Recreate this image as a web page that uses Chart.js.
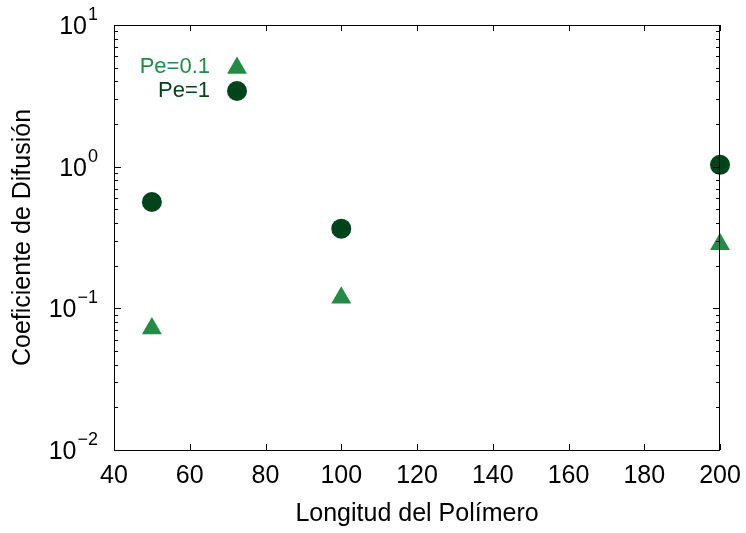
<!DOCTYPE html>
<html>
<head>
<meta charset="utf-8">
<script src="https://cdn.jsdelivr.net/npm/chart.js@4"></script>
<style>
  html, body { margin: 0; padding: 0; background: #fff; }
  #wrap { width: 746px; height: 533px; }
</style>
</head>
<body>
<div id="wrap"><canvas id="chart1" width="746" height="533"></canvas></div>
<script>
  // datos
  const longitudes = [50, 100, 200];
  const pe01 = [0.072, 0.119, 0.283];
  const pe1 = [0.563, 0.365, 1.03];
  const xTicks = [40, 60, 80, 100, 120, 140, 160, 180, 200];
  const yDecades = [0.01, 0.1, 1, 10];
  const yExponents = ['\u22122', '\u22121', '0', '1'];

  const colorPe01 = '#238b45';
  const colorPe1 = '#00441b';
  const fontName = '"Liberation Sans", Arial, sans-serif';

  // marco, ticks hacia dentro, etiquetas y leyenda
  const gnuplotStyle = {
    id: 'gnuplotStyle',
    afterDatasetsDraw(chart) {
      const ctx = chart.ctx;
      const a = chart.chartArea;
      const xs = chart.scales.x;
      const ys = chart.scales.y;
      ctx.save();
      ctx.strokeStyle = '#000';
      ctx.lineWidth = 1;
      ctx.strokeRect(a.left + 0.5, a.top + 0.5, a.right - a.left - 1, a.bottom - a.top);

      ctx.beginPath();
      xTicks.forEach(v => {
        const px = Math.round(xs.getPixelForValue(v)) + 0.5;
        ctx.moveTo(px, a.bottom); ctx.lineTo(px, a.bottom - 6);
        ctx.moveTo(px, a.top); ctx.lineTo(px, a.top + 6);
      });
      yDecades.forEach((d, i) => {
        const py = Math.round(ys.getPixelForValue(d)) + 0.5;
        ctx.moveTo(a.left, py); ctx.lineTo(a.left + 7, py);
        ctx.moveTo(a.right, py); ctx.lineTo(a.right - 7, py);
        if (i < yDecades.length - 1) {
          for (let m = 2; m <= 9; m++) {
            const pm = Math.round(ys.getPixelForValue(d * m)) + 0.5;
            ctx.moveTo(a.left, pm); ctx.lineTo(a.left + 4, pm);
            ctx.moveTo(a.right, pm); ctx.lineTo(a.right - 4, pm);
          }
        }
      });
      ctx.stroke();

      // etiquetas del eje x
      ctx.fillStyle = '#000';
      ctx.textBaseline = 'middle';
      ctx.textAlign = 'center';
      ctx.font = '25px ' + fontName;
      xTicks.forEach(v => {
        ctx.fillText(String(v), xs.getPixelForValue(v), a.bottom + 26);
      });

      // etiquetas del eje y con exponente
      yDecades.forEach((d, i) => {
        const py = ys.getPixelForValue(d);
        const right = a.left - 16;
        ctx.font = '18px ' + fontName;
        const supW = ctx.measureText(yExponents[i]).width;
        ctx.textAlign = 'left';
        ctx.fillText(yExponents[i], right - supW, py - 10);
        ctx.font = '25px ' + fontName;
        ctx.textAlign = 'right';
        ctx.fillText('10', right - supW - 1, py + 2);
      });

      // leyenda
      ctx.font = '22px ' + fontName;
      ctx.textAlign = 'right';
      ctx.fillStyle = colorPe01;
      ctx.fillText(chart.data.datasets[0].label, 210, 67);
      ctx.fillStyle = colorPe1;
      ctx.fillText(chart.data.datasets[1].label, 210, 91);
      ctx.fillStyle = colorPe01;
      ctx.beginPath();
      ctx.moveTo(237, 68 - 11.5);
      ctx.lineTo(237 + 11.5 * Math.sin(Math.PI / 3), 68 + 5.75);
      ctx.lineTo(237 - 11.5 * Math.sin(Math.PI / 3), 68 + 5.75);
      ctx.closePath();
      ctx.fill();
      ctx.fillStyle = colorPe1;
      ctx.beginPath();
      ctx.arc(237, 91, 10, 0, Math.PI * 2);
      ctx.fill();
      ctx.restore();
    }
  };

  const ctx = document.getElementById('chart1').getContext('2d');
  const chart = new Chart(ctx, {
    type: 'scatter',
    data: {
      datasets: [{
        label: 'Pe=0.1',
        data: longitudes.map((x, i) => ({ x: x, y: pe01[i] })),
        pointStyle: 'triangle',
        pointRadius: 11.5,
        pointBorderWidth: 0,
        backgroundColor: colorPe01,
        borderColor: colorPe01,
        clip: false
      }, {
        label: 'Pe=1',
        data: longitudes.map((x, i) => ({ x: x, y: pe1[i] })),
        pointStyle: 'circle',
        pointRadius: 10,
        pointBorderWidth: 0,
        backgroundColor: colorPe1,
        borderColor: colorPe1,
        clip: false
      }]
    },
    options: {
      responsive: false,
      animation: false,
      layout: { padding: { top: 25, right: 26, left: 0, bottom: 0 } },
      plugins: {
        legend: { display: false },
        tooltip: { enabled: false }
      },
      scales: {
        x: {
          type: 'linear',
          min: 40,
          max: 200,
          afterFit: s => { s.height = 83; },
          grid: { display: false, drawTicks: false },
          border: { display: false },
          ticks: { stepSize: 20, display: false },
          title: {
            display: true,
            text: 'Longitud del Polímero',
            color: '#000',
            font: { family: fontName, size: 25 },
            padding: { top: 0, bottom: 4 }
          }
        },
        y: {
          type: 'logarithmic',
          min: 0.01,
          max: 10,
          afterFit: s => { s.width = 114; },
          grid: { display: false, drawTicks: false },
          border: { display: false },
          ticks: { display: false },
          title: {
            display: true,
            text: 'Coeficiente de Difusión',
            color: '#000',
            font: { family: fontName, size: 25 },
            padding: { top: 8, bottom: 0 }
          }
        }
      }
    },
    plugins: [gnuplotStyle]
  });
</script>
</body>
</html>
